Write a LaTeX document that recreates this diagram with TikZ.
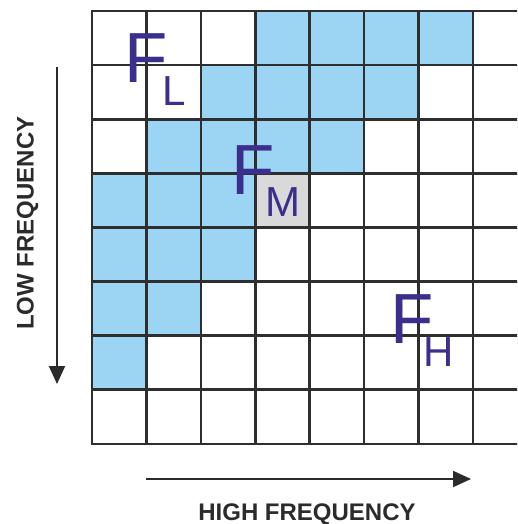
\documentclass[tikz,border=0pt]{standalone}
\usepackage{fontspec}
\setmainfont{Liberation Sans}
\usetikzlibrary{arrows.meta}
\definecolor{cellblue}{HTML}{9BD5F3}
\definecolor{cellgray}{HTML}{D9D9D9}
\definecolor{gridcol}{HTML}{2E2E2E}
\definecolor{labcol}{HTML}{3A2F8C}
\definecolor{axcol}{HTML}{2B2B2B}
\newcommand{\freqsub}[3]{F\kern#2pt\raisebox{-#3pt}{\fontsize{42}{42}\selectfont #1}}
\tikzset{
  gridline/.style={draw=gridcol, line width=2.6pt, line cap=rect},
  bigF/.style={inner sep=0pt, text=labcol, font=\fontsize{71}{71}\selectfont},
  axislabel/.style={inner sep=0pt, text=axcol, font=\bfseries\fontsize{24}{24}\selectfont},
  axisarrow/.style={draw=axcol, line width=2pt, -{Triangle[length=18pt,width=16pt]}}
}
\begin{document}
\begin{tikzpicture}[x=1pt,y=-1pt]
\useasboundingbox (0,0) rectangle (517,524);
\clip (0,0) rectangle (517,524);
% blue cells
\foreach \rr/\cc in {0/3,0/4,0/5,0/6,1/2,1/3,1/4,1/5,2/1,2/2,2/3,2/4,3/0,3/1,3/2,4/0,4/1,4/2,5/0,5/1,6/0}
  \fill[cellblue] ({92+\cc*54.4},{11+\rr*54.1}) rectangle +(54.4,54.1);
% gray cell
\fill[cellgray] ({92+3*54.4},{11+3*54.1}) rectangle +(54.4,54.1);
% grid
\foreach \i in {0,...,8} {
  \draw[gridline] ({92+\i*54.4},11) -- ({92+\i*54.4},{11+8*54.1});
  \draw[gridline] (92,{11+\i*54.1}) -- ({92+8*54.4},{11+\i*54.1});
}
% labels
\node[bigF, anchor=base west] (fl) at (124,83) {\freqsub{L}{-5.4}{23}};
\node[bigF, anchor=base west] (fm) at (231,194) {\freqsub{M}{-9.4}{22}};
\node[bigF, anchor=base west] (fh) at (390,343) {\freqsub{H}{-9.9}{23}};
% axes
\coordinate (lowstart) at (57,67);
\coordinate (lowend) at (57,384);
\draw[axisarrow] (lowstart) -- (lowend);
\coordinate (highstart) at (146,479);
\coordinate (highend) at (471,479);
\draw[axisarrow] (highstart) -- (highend);
\node[axislabel, rotate=90, anchor=base] (lowlab) at (33.5,223) {LOW FREQUENCY};
\node[axislabel, anchor=base] (highlab) at (307,520) {HIGH FREQUENCY};
\end{tikzpicture}
\end{document}
